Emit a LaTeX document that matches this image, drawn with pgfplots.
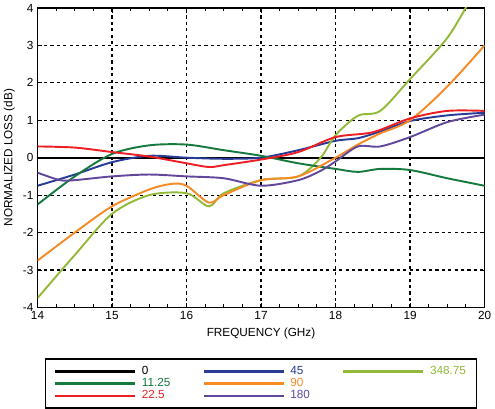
\documentclass[border=0pt]{standalone}
\usepackage{pgfplots}
\pgfplotsset{compat=1.18}
\usepackage{fontspec}
\setmainfont{Liberation Sans}
\definecolor{cgreen}{RGB}{22,122,62}
\definecolor{cred}{RGB}{236,32,36}
\definecolor{cblue}{RGB}{40,60,150}
\definecolor{corange}{RGB}{246,138,36}
\definecolor{cpurple}{RGB}{98,72,156}
\definecolor{cyg}{RGB}{146,186,56}
\begin{document}
\fontsize{11}{13}\selectfont
\begin{tikzpicture}
\begin{axis}[
  scale only axis, width=418pt, height=280pt,
  xmin=14, xmax=20, ymin=-4, ymax=4,
  xtick={14,...,20}, ytick={-4,...,4},
  minor x tick num=3,
  tick align=inside, tick style={black, thick},
  grid=major, major grid style={black, dash pattern=on 3pt off 3pt, line width=1.1pt},
  axis line style={line width=1.6pt},
  xlabel={FREQUENCY (GHz)}, ylabel={NORMALIZED LOSS (dB)},
  /pgf/number format/assume math mode=true,
  ticklabel style={font=\fontsize{11}{13}\selectfont},
  label style={font=\fontsize{11}{13}\selectfont},
  legend columns=3,
  legend style={at={(0.5,-0.17)}, anchor=north, draw=black, line width=1.4pt,
    font=\fontsize{11}{13}\selectfont, column sep=3pt, inner xsep=8pt, inner ysep=5pt,
    /tikz/every even column/.append style={column sep=28pt}, row sep=-2pt},
  legend cell align=left,
  legend image code/.code={\draw[#1, line width=2.2pt] (0pt,0pt) -- (75pt,0pt);},
  every axis plot/.append style={line width=1.8pt, smooth},
  clip=true,
]
\addplot[black, sharp plot] coordinates {(14,0) (20,0)};
\addlegendentry{\textcolor{black}{0}}
\addplot[cblue] coordinates {(14,-0.75)(14.5,-0.45)(15,-0.12)(15.5,0.05)(16,0.0)(16.5,-0.03)(17,0.0)(17.5,0.2)(18,0.45)(18.3,0.52)(18.6,0.7)(19,0.98)(19.5,1.13)(20,1.2)};
\addlegendentry{\textcolor{cblue}{45}}
\addplot[cyg] coordinates {(14,-3.75)(14.5,-2.6)(15,-1.5)(15.5,-1.0)(16,-0.95)(16.3,-1.3)(16.5,-0.95)(17,-0.6)(17.5,-0.5)(17.8,0.0)(18,0.6)(18.3,1.12)(18.6,1.25)(19,2.1)(19.5,3.2)(19.8,4.2)};
\addlegendentry{\textcolor{cyg}{348.75}}
\addplot[cgreen] coordinates {(14,-1.25)(14.5,-0.5)(15,0.1)(15.5,0.33)(16,0.35)(16.5,0.2)(17,0.05)(17.5,-0.15)(18,-0.3)(18.3,-0.38)(18.6,-0.3)(19,-0.33)(19.5,-0.55)(20,-0.75)};
\addlegendentry{\textcolor{cgreen}{11.25}}
\addplot[corange] coordinates {(14,-2.75)(14.5,-2.0)(15,-1.3)(15.5,-0.85)(15.8,-0.7)(16,-0.75)(16.3,-1.2)(16.5,-1.0)(17,-0.6)(17.5,-0.5)(18,0.0)(18.3,0.35)(18.6,0.65)(19,1.0)(19.5,1.9)(20,3.0)};
\addlegendentry{\textcolor{corange}{90}}
\addlegendimage{empty legend}\addlegendentry{}
\addplot[cred] coordinates {(14,0.3)(14.5,0.27)(15,0.15)(15.5,0.03)(16,-0.15)(16.3,-0.25)(16.5,-0.2)(17,-0.05)(17.5,0.15)(18,0.55)(18.5,0.68)(19,1.05)(19.5,1.25)(20,1.25)};
\addlegendentry{\textcolor{cred}{22.5}}
\addplot[cpurple] coordinates {(14,-0.4)(14.3,-0.6)(14.5,-0.6)(15,-0.5)(15.5,-0.45)(16,-0.5)(16.5,-0.55)(17,-0.75)(17.5,-0.6)(17.8,-0.35)(18,-0.1)(18.3,0.3)(18.6,0.3)(19,0.55)(19.5,0.95)(20,1.15)};
\addlegendentry{\textcolor{cpurple}{180}}
\end{axis}
\end{tikzpicture}
\end{document}
